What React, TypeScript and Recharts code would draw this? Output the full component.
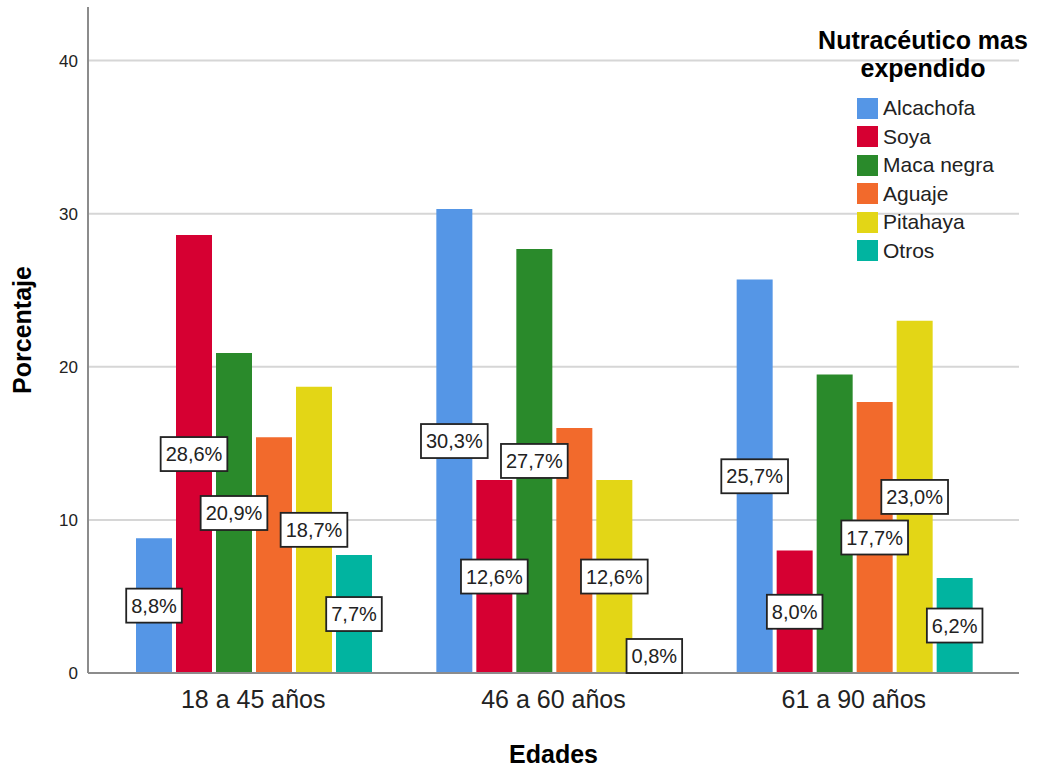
import { BarChart, Bar, XAxis, YAxis, CartesianGrid, LabelList, Label } from 'recharts';

const FONT = '"Liberation Sans", Arial, sans-serif';

const AGE_GROUPS = ['18 a 45 años', '46 a 60 años', '61 a 90 años'];

const ALCACHOFA = [8.8, 30.3, 25.7];
const SOYA = [28.6, 12.6, 8.0];
const MACA_NEGRA = [20.9, 27.7, 19.5];
const AGUAJE = [15.4, 16.0, 17.7];
const PITAHAYA = [18.7, 12.6, 23.0];
const OTROS = [7.7, 0.8, 6.2];

// which bars carry a value box in the original
const ALCACHOFA_LABELED = [true, true, true];
const SOYA_LABELED = [true, true, true];
const MACA_NEGRA_LABELED = [true, true, false];
const AGUAJE_LABELED = [false, false, true];
const PITAHAYA_LABELED = [true, true, true];
const OTROS_LABELED = [true, true, true];

const Y_TICKS = [0, 10, 20, 30, 40];
const GRID_VALUES = [10, 20, 30, 40];

const SERIES = [
    { key: 'alcachofa', name: 'Alcachofa', color: '#5596e6', values: ALCACHOFA, labeled: ALCACHOFA_LABELED },
    { key: 'soya', name: 'Soya', color: '#d60032', values: SOYA, labeled: SOYA_LABELED },
    { key: 'maca', name: 'Maca negra', color: '#2a8a2b', values: MACA_NEGRA, labeled: MACA_NEGRA_LABELED },
    { key: 'aguaje', name: 'Aguaje', color: '#f26a2c', values: AGUAJE, labeled: AGUAJE_LABELED },
    { key: 'pitahaya', name: 'Pitahaya', color: '#e3d616', values: PITAHAYA, labeled: PITAHAYA_LABELED },
    { key: 'otros', name: 'Otros', color: '#01b4a0', values: OTROS, labeled: OTROS_LABELED },
];

const data = AGE_GROUPS.map((group, i) => {
    const row: Record<string, string | number> = { group };
    SERIES.forEach((s) => { row[s.key] = s.values[i]; });
    return row;
});

const fmt = (v: number) => `${v.toFixed(1).replace('.', ',')}%`;

// rough Liberation Sans advance widths
const textWidth = (t: string, size: number) => {
    let w = 0;
    for (const ch of t) {
        if (ch === ',' || ch === '.') w += 0.278;
        else if (ch === '%') w += 0.889;
        else w += 0.556;
    }
    return w * size;
};

const makeValueBox = (labeled: boolean[]) => (props: any) => {
    const { x = 0, y = 0, width = 0, height = 0, value, index } = props;
    if (!labeled[index]) return null;
    const text = fmt(Number(value));
    const fs = 20;
    const boxH = 34;
    const boxW = textWidth(text, fs) + 10;
    const cx = Number(x) + Number(width) / 2;
    const bottom = Number(y) + Number(height);
    const cy = Math.min(Number(y) + Number(height) / 2, bottom - boxH / 2);
    return (
        <g>
            <rect x={cx - boxW / 2} y={cy - boxH / 2} width={boxW} height={boxH} fill="#fff" stroke="#222" strokeWidth={1.8} />
            <text x={cx} y={cy} textAnchor="middle" dominantBaseline="central" fontSize={fs} fontFamily={FONT} fill="#222">
                {text}
            </text>
        </g>
    );
};

const LegendBox = () => (
    <div style={{ position: 'absolute', left: 800, top: 26, width: 246, fontFamily: FONT, color: '#000' }}>
        <div style={{ textAlign: 'center', fontWeight: 'bold', fontSize: 25, lineHeight: '28px' }}>
            Nutracéutico mas<br />expendido
        </div>
        <div style={{ marginTop: 12, paddingLeft: 57 }}>
            {SERIES.map((s) => (
                <div key={s.key} style={{ display: 'flex', alignItems: 'center', height: 28.5 }}>
                    <div style={{ width: 21, height: 21, background: s.color, marginRight: 5 }} />
                    <span style={{ fontSize: 21, color: '#222' }}>{s.name}</span>
                </div>
            ))}
        </div>
    </div>
);

const YTitle = (props: any) => {
    const vb = props.viewBox || { x: 0, y: 0, width: 0, height: 0 };
    const cx = vb.x + 22;
    const cy = vb.y + vb.height / 2 - 10;
    return (
        <text x={cx} y={cy} transform={`rotate(-90 ${cx} ${cy})`} textAnchor="middle" dominantBaseline="central"
            fontSize={25} fontWeight="bold" fontFamily={FONT} fill="#000">
            Porcentaje
        </text>
    );
};

const XTitle = (props: any) => {
    const vb = props.viewBox || { x: 0, y: 0, width: 0, height: 0 };
    return (
        <text x={vb.x + vb.width / 2} y={vb.y + 90} textAnchor="middle" fontSize={25} fontWeight="bold" fontFamily={FONT} fill="#000">
            Edades
        </text>
    );
};

export default function App() {
    return (
        <div style={{ position: 'absolute', left: 0, top: 0, width: 1039, height: 768, background: '#fff' }}>
            <BarChart
                width={1039}
                height={768}
                data={data}
                margin={{ top: 7, right: 20, left: 0, bottom: 0 }}
                barCategoryGap={33}
                barGap={4}
            >
                <CartesianGrid vertical={false} horizontalValues={GRID_VALUES} stroke="#d6d6d6" strokeWidth={2} />
                <XAxis
                    dataKey="group"
                    height={95}
                    padding={{ left: 15, right: 15 }}
                    axisLine={{ stroke: '#8c8c8c', strokeWidth: 2 }}
                    tickLine={false}
                    tickSize={0}
                    tickMargin={17}
                    tick={{ fontSize: 25, fill: '#222', fontFamily: FONT }}
                >
                    <Label content={<XTitle />} />
                </XAxis>
                <YAxis
                    width={88}
                    domain={[0, 43.5]}
                    ticks={Y_TICKS}
                    allowDataOverflow
                    axisLine={{ stroke: '#8c8c8c', strokeWidth: 2 }}
                    tickLine={false}
                    tickSize={0}
                    tickMargin={10}
                    tick={{ fontSize: 17, fill: '#222', fontFamily: FONT }}
                >
                    <Label content={<YTitle />} />
                </YAxis>
                {SERIES.map((s) => (
                    <Bar key={s.key} dataKey={s.key} name={s.name} fill={s.color} isAnimationActive={false}>
                        <LabelList dataKey={s.key} content={makeValueBox(s.labeled)} />
                    </Bar>
                ))}
            </BarChart>
            <LegendBox />
        </div>
    );
}
